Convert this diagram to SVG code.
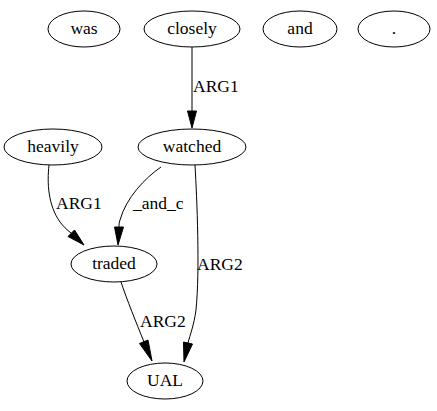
<svg xmlns="http://www.w3.org/2000/svg" width="437" height="411" viewBox="0 0 437 411">
<style>
.n ellipse{fill:none;stroke:#000;stroke-width:1}
text{font-family:"Liberation Serif","Times New Roman",serif;font-size:17.5px;fill:#000}
.n text{text-anchor:middle}
.e path{fill:none;stroke:#000;stroke-width:1}
.e polygon{fill:#000;stroke:#000}
</style>
<rect width="437" height="411" fill="#fff"/>
<g id="was" class="n"><ellipse cx="84" cy="29" rx="36" ry="18"/><text x="84" y="34">was</text></g>
<g id="closely" class="n"><ellipse cx="192" cy="29" rx="48" ry="18"/><text x="192" y="34">closely</text></g>
<g id="and" class="n"><ellipse cx="300" cy="29" rx="37" ry="18"/><text x="300" y="34">and</text></g>
<g id="dot" class="n"><ellipse cx="394" cy="29" rx="36" ry="18"/><text x="394" y="34">.</text></g>
<g id="heavily" class="n"><ellipse cx="53" cy="147" rx="49" ry="18"/><text x="53" y="152">heavily</text></g>
<g id="watched" class="n"><ellipse cx="192" cy="147" rx="54" ry="18"/><text x="192" y="152">watched</text></g>
<g id="traded" class="n"><ellipse cx="114" cy="264" rx="43" ry="18"/><text x="114" y="269">traded</text></g>
<g id="UAL" class="n"><ellipse cx="165" cy="381" rx="38" ry="18"/><text x="165" y="386">UAL</text></g>
<g id="edges" class="e">
<path d="M192,47 L192,111"/><polygon points="187.5,111 196.5,111 192,128"/>
<text x="193" y="92">ARG1</text>
<path d="M49,165 C47,183 48,205 60,222 C63,226 67,230 71,233"/><polygon points="68,236.5 74.5,230 84,245"/>
<text x="56" y="209">ARG1</text>
<path d="M161,167 C145,178 126,198 120,220 C119,223 119,225 119,227"/><polygon points="114.5,227 123.5,227 118,245"/>
<text x="133" y="209">_and_c</text>
<path d="M195,165 C197,200 200,270 196,310 C194,325 190,335 188,343"/><polygon points="183.5,342 192.5,344 184,362"/>
<text x="197" y="270">ARG2</text>
<path d="M121,282 C127,300 136,322 144,342"/><polygon points="139.5,343.5 148,340 152,361"/>
<text x="140" y="327">ARG2</text>
</g>
</svg>
